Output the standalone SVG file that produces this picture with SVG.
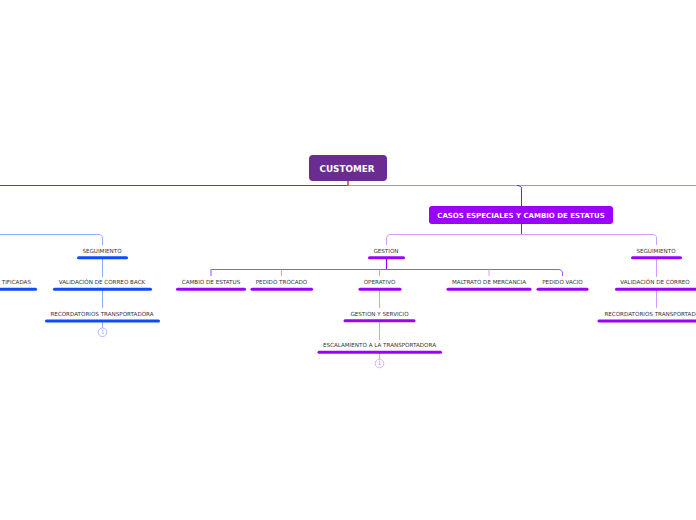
<svg xmlns="http://www.w3.org/2000/svg" width="696" height="520" viewBox="0 0 696 520">
<style>
.lbl{font-family:"DejaVu Sans",Verdana,sans-serif;font-size:5.6px;fill:#333;text-anchor:middle}
.title{font-family:"DejaVu Sans",Verdana,sans-serif;font-weight:bold;fill:#fff;text-anchor:middle}
.barB{stroke:#0A4DFF;stroke-width:3;stroke-linecap:round;fill:none}
.barP{stroke:#9B00FF;stroke-width:3;stroke-linecap:round;fill:none}
.cB{stroke:#8EAEFF;stroke-width:1;fill:none}
.cP{stroke:#D49CFF;stroke-width:1;fill:none}
.cPm{stroke:#A64DFF;stroke-width:1;fill:none}
.cnt{font-family:"DejaVu Sans",Verdana,sans-serif;font-size:5px;text-anchor:middle}
</style>
<rect width="696" height="520" fill="#fff"/>
<g id="connectors">
<line x1="0" y1="185.5" x2="348" y2="185.5" stroke="#2A52D0" stroke-width="1"/>
<line x1="348" y1="185.5" x2="696" y2="185.5" stroke="#E8952E" stroke-width="1"/>
<line x1="348" y1="181" x2="348" y2="185.5" stroke="#D9703A" stroke-width="2"/>
<path d="M517,185.5 Q521.5,185.5 521.5,189 V206" stroke="#9B00FF" stroke-width="1" fill="none"/>
<line x1="521.5" y1="224" x2="521.5" y2="234.5" stroke="#9B00FF" stroke-width="1"/>
<path class="cP" d="M386.5,245 V238 Q386.5,234.5 390,234.5 H652 Q656.5,234.5 656.5,238 V245"/>
<path class="cB" d="M0,234.5 H98 Q102.5,234.5 102.5,238 V245"/>
<line class="cB" x1="102.5" y1="259" x2="102.5" y2="277"/>
<line class="cB" x1="102.5" y1="290" x2="102.5" y2="308"/>
<line class="cB" x1="102.5" y1="322" x2="102.5" y2="328"/>
<line x1="386.5" y1="259" x2="386.5" y2="269.5" stroke="#9B00FF" stroke-width="1.2"/>
<path class="cPm" d="M211,276 V269.5 H558 Q562.5,269.5 562.5,273 V276"/>
<line class="cP" x1="211" y1="269.5" x2="211" y2="276"/>
<line class="cP" x1="281.5" y1="269.5" x2="281.5" y2="276"/>
<line class="cP" x1="379.5" y1="269.5" x2="379.5" y2="276"/>
<line class="cP" x1="489" y1="269.5" x2="489" y2="276"/>
<line class="cP" x1="379.5" y1="290" x2="379.5" y2="308"/>
<line class="cP" x1="379.5" y1="322" x2="379.5" y2="340"/>
<line class="cP" x1="379.5" y1="353" x2="379.5" y2="359"/>
<line class="cP" x1="656.5" y1="259" x2="656.5" y2="277"/>
<line class="cP" x1="656.5" y1="290" x2="656.5" y2="308"/>
</g>
<g id="customer">
<rect x="309" y="155" width="78" height="26" rx="4" fill="#6A2C91"/>
<text class="title" x="347" y="171.5" font-size="8.8">CUSTOMER</text>
</g>
<g id="casos">
<rect x="429" y="206" width="184" height="18" rx="3" fill="#9B00FF"/>
<text class="title" x="521" y="217.5" font-size="7">CASOS ESPECIALES Y CAMBIO DE ESTATUS</text>
</g>
<g id="seguimiento-left">
<text class="lbl" x="102" y="252.7">SEGUIMIENTO</text>
<line class="barB" x1="78.5" y1="257.7" x2="126.5" y2="257.7"/>
</g>
<g id="certificadas">
<text class="lbl" x="31" y="284" style="text-anchor:end">TIFICADAS</text>
<line class="barB" x1="0" y1="289.3" x2="35.5" y2="289.3"/>
</g>
<g id="validacion-back">
<text class="lbl" x="102" y="284">VALIDACIÓN DE CORREO BACK</text>
<line class="barB" x1="54.5" y1="289.3" x2="150.5" y2="289.3"/>
</g>
<g id="recordatorios-left">
<text class="lbl" x="102" y="316">RECORDATORIOS TRANSPORTADORA</text>
<line class="barB" x1="46.5" y1="321" x2="158.5" y2="321"/>
<circle cx="102.5" cy="332.3" r="4.3" fill="#fff" stroke="#8EAEFF" stroke-width="0.8"/>
<text class="cnt" x="102.5" y="334.1" fill="#8EAEFF">1</text>
</g>
<g id="gestion">
<text class="lbl" x="386" y="252.7">GESTION</text>
<line class="barP" x1="369.5" y1="257.7" x2="403.5" y2="257.7"/>
</g>
<g id="cambio-estatus">
<text class="lbl" x="211" y="284">CAMBIO DE ESTATUS</text>
<line class="barP" x1="177.5" y1="289.3" x2="244.5" y2="289.3"/>
</g>
<g id="pedido-trocado">
<text class="lbl" x="281.5" y="284">PEDIDO TROCADO</text>
<line class="barP" x1="252" y1="289.3" x2="311.5" y2="289.3"/>
</g>
<g id="operativo">
<text class="lbl" x="379.5" y="284">OPERATIVO</text>
<line class="barP" x1="360" y1="289.3" x2="400" y2="289.3"/>
</g>
<g id="maltrato">
<text class="lbl" x="489" y="284">MALTRATO DE MERCANCIA</text>
<line class="barP" x1="448" y1="289.3" x2="530" y2="289.3"/>
</g>
<g id="pedido-vacio">
<text class="lbl" x="562.5" y="284">PEDIDO VACIO</text>
<line class="barP" x1="538" y1="289.3" x2="587" y2="289.3"/>
</g>
<g id="gestion-servicio">
<text class="lbl" x="379.5" y="316">GESTION Y SERVICIO</text>
<line class="barP" x1="345" y1="320.7" x2="414" y2="320.7"/>
</g>
<g id="escalamiento">
<text class="lbl" x="379.5" y="347">ESCALAMIENTO A LA TRANSPORTADORA</text>
<line class="barP" x1="319" y1="352.3" x2="440.5" y2="352.3"/>
<circle cx="379.5" cy="363.5" r="4.3" fill="#fff" stroke="#D49CFF" stroke-width="0.8"/>
<text class="cnt" x="379.5" y="365.3" fill="#C27BFF">1</text>
</g>
<g id="seguimiento-right">
<text class="lbl" x="656" y="252.7">SEGUIMIENTO</text>
<line class="barP" x1="632.5" y1="257.7" x2="680.5" y2="257.7"/>
</g>
<g id="validacion-right">
<text class="lbl" x="655" y="284">VALIDACIÓN DE CORREO</text>
<line class="barP" x1="616.5" y1="289.3" x2="700" y2="289.3"/>
</g>
<g id="recordatorios-right">
<text class="lbl" x="656" y="316">RECORDATORIOS TRANSPORTADORA</text>
<line class="barP" x1="599" y1="321" x2="714" y2="321"/>
</g>
</svg>
